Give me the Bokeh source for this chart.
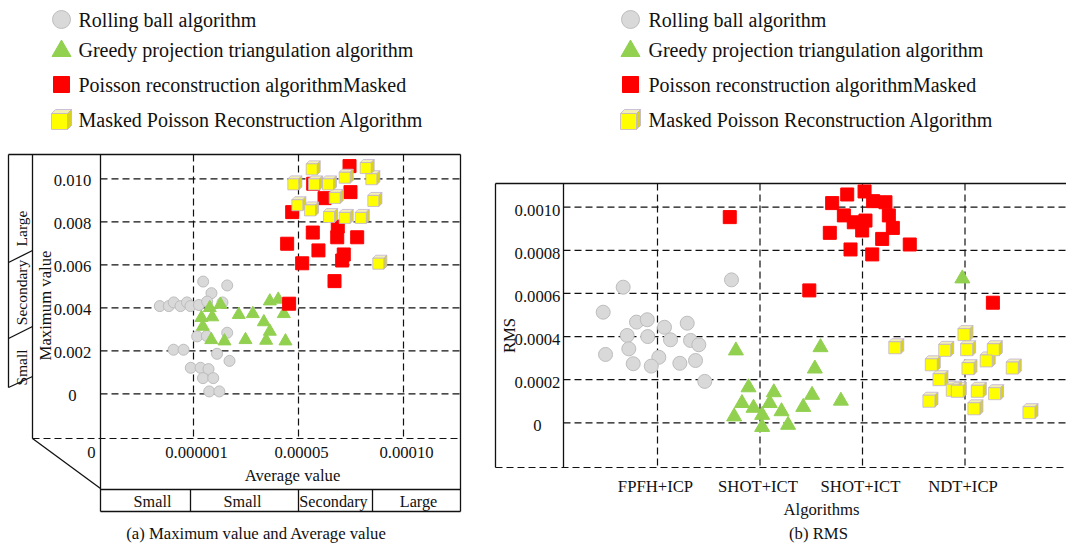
from bokeh.plotting import figure
from bokeh.models import Range1d
from bokeh.core.properties import value
from bokeh.embed import file_html
from bokeh.resources import INLINE

W, H = 1066, 544
FONT = value("Liberation Serif")

# ---------------- data: panel (a) ----------------
# x: position along the "Average value" axis (ticks 0, 0.000001, 0.00005, 0.00010)
# y: maximum value
left_x_ticks = [0, 1, 2, 3]
left_x_labels = ["0", "0.000001", "0.00005", "0.00010"]
left_y_ticks = [0, 0.002, 0.004, 0.006, 0.008, 0.010]
left_y_labels = ["0", "0.002", "0.004", "0.006", "0.008", "0.010"]
left_band_labels = ["Small", "Small", "Secondary", "Large"]
left_side_labels = ["Large", "Secondary", "Small"]

rb_avg = [1.092, 1.321, 1.171, 0.679, 0.765, 0.812, 0.876, 0.938, 0.971, 1.052, 1.130, 1.276, 1.035,
          1.127, 1.321, 0.810, 0.905, 1.224, 1.343, 0.974, 1.067, 1.143, 1.090, 1.188, 1.150, 1.246]
rb_max = [0.00522, 0.00504, 0.00468, 0.00408, 0.00408, 0.00425, 0.00408, 0.00425, 0.00408, 0.00413,
          0.00429, 0.00425, 0.00267, 0.00269, 0.00284, 0.00205, 0.00205, 0.00186, 0.00153, 0.00121,
          0.00121, 0.00115, 0.00073, 0.00073, 0.00011, 0.00011]

gp_avg = [1.727, 1.807, 1.257, 1.155, 1.076, 1.178, 1.089, 1.431, 1.565, 1.670, 1.727, 1.860, 1.169,
          1.295, 1.495, 1.692, 1.876]
gp_max = [0.00431, 0.00439, 0.00415, 0.00400, 0.00354, 0.00357, 0.00313, 0.00368, 0.00372, 0.00334,
          0.00290, 0.00372, 0.00251, 0.00245, 0.00251, 0.00248, 0.00245]

pr_avg = [2.486, 2.140, 2.248, 2.495, 1.940, 2.374, 2.136, 2.369, 2.559, 1.892, 2.190, 2.431, 2.416,
          2.035, 2.343, 1.911]
pr_max = [0.01059, 0.00977, 0.00910, 0.00938, 0.00845, 0.00778, 0.00750, 0.00728, 0.00728, 0.00698,
          0.00667, 0.00648, 0.00620, 0.00607, 0.00524, 0.00419]

mp_avg = [2.126, 2.640, 1.951, 2.148, 2.281, 2.440, 2.694, 1.989, 2.110, 2.345, 2.713, 2.291, 2.440,
          2.593, 2.760]
mp_max = [0.01044, 0.01050, 0.00974, 0.00974, 0.00974, 0.01005, 0.00998, 0.00877, 0.00853, 0.00911,
          0.00897, 0.00822, 0.00818, 0.00818, 0.00605]

# ---------------- data: panel (b) ----------------
right_categories = ["FPFH+ICP", "SHOT+ICT", "SHOT+ICT", "NDT+ICP"]
right_x_ticks = [1, 2, 3, 4]
right_y_ticks = [0, 0.0002, 0.0004, 0.0006, 0.0008, 0.0010]
right_y_labels = ["0", "0.0002", "0.0004", "0.0006", "0.0008", "0.0010"]

rb_alg = [0.665, 1.722, 0.470, 0.795, 0.900, 1.068, 1.290, 0.704, 0.905, 1.127, 1.322, 1.403, 0.720,
          0.493, 1.013, 0.763, 0.939, 1.218, 1.371, 1.461]
rb_rms = [0.000629, 0.000663, 0.000513, 0.000467, 0.000478, 0.000443, 0.000462, 0.000405, 0.000400,
          0.000385, 0.000382, 0.000362, 0.000343, 0.000317, 0.000304, 0.000274, 0.000263, 0.000276,
          0.000289, 0.000192]

gp_alg = [1.765, 2.590, 2.535, 1.888, 2.135, 1.824, 1.937, 2.095, 2.508, 2.422, 2.789, 1.748, 2.021,
          2.210, 2.021, 2.274, 3.974]
gp_rms = [0.000335, 0.000350, 0.000251, 0.000164, 0.000141, 0.000091, 0.000069, 0.000091, 0.000129,
          0.000073, 0.000102, 0.000029, 0.000036, 0.000053, -0.000020, -0.000010, 0.000669]

pr_alg = [1.705, 2.851, 3.020, 2.704, 3.104, 3.224, 2.818, 3.257, 2.915, 3.029, 2.997, 3.296, 2.681,
          3.192, 3.461, 2.883, 3.095, 2.481, 4.272]
pr_rms = [0.000954, 0.001059, 0.001073, 0.001019, 0.001028, 0.001023, 0.000962, 0.000962, 0.000930,
          0.000938, 0.000892, 0.000904, 0.000881, 0.000853, 0.000827, 0.000804, 0.000781, 0.000614,
          0.000557]

mp_alg = [3.315, 3.990, 3.802, 4.016, 4.276, 4.207, 3.671, 4.029, 4.461, 3.746, 3.876, 3.925, 4.120,
          4.289, 3.648, 4.087, 4.624]
mp_rms = [0.000348, 0.000409, 0.000336, 0.000339, 0.000339, 0.000287, 0.000269, 0.000251, 0.000254,
          0.000200, 0.000151, 0.000146, 0.000146, 0.000135, 0.000100, 0.000065, 0.000047]

series_names = ["Rolling ball algorithm", "Greedy projection triangulation algorithm",
                "Poisson reconstruction algorithmMasked", "Masked Poisson Reconstruction Algorithm"]

# ---------------- styles ----------------
GRAY_FILL, GRAY_LINE = "#d9d9d9", "#bdbdbd"
GREEN = "#92d050"
RED = "#ff0000"
CUBE_FRONT, CUBE_TOP, CUBE_SIDE, CUBE_EDGE = "#ffff00", "#f3efb4", "#d9d21c", "#bfb2d6"
INK = "#111111"
DASH = "7 4"

# pixel placement of each panel's scales (px of reference value, px per data unit)
L_X0, L_XS = 88.0, 105.0
L_Y0, L_YS = 393.3, 21500.0
R_X1, R_XS = 657.0, 102.5
R_Y0, R_YS = 422.3, 215600.0

p = figure(width=W, height=H, output_backend="svg", toolbar_location=None,
           x_range=Range1d(0, W), y_range=Range1d(H, 0),
           x_axis_location=None, y_axis_location=None, min_border=0,
           outline_line_color=None, background_fill_color="white", border_fill_color="white")
p.grid.visible = False
p.extra_x_ranges = {"lx": Range1d(-L_X0 / L_XS, (W - L_X0) / L_XS),
                    "rx": Range1d(1 - R_X1 / R_XS, 1 + (W - R_X1) / R_XS)}
p.extra_y_ranges = {"ly": Range1d((L_Y0 - H) / L_YS, L_Y0 / L_YS),
                    "ry": Range1d((R_Y0 - H) / R_YS, R_Y0 / R_YS)}


def txt(x, y, t, size="16.7px", align="center", angle=0.0, **kw):
    p.text(x=x, y=y, text=t, text_font=FONT, text_font_size=value(size), text_color=INK,
           text_align=align, text_baseline="middle", angle=angle, **kw)


def solid(x0, y0, x1, y1, width=1.3):
    p.segment(x0=x0, y0=y0, x1=x1, y1=y1, line_color=INK, line_width=width)


def cubes(xs, ys, size, depth, xscale, yscale, **kw):
    h = size / 2.0
    top_x, top_y, side_x, side_y = [], [], [], []
    for x, y in zip(xs, ys):
        def px(dx, dy):
            return x + dx / xscale, y + dy / yscale
        t = [px(-h, h), px(-h + depth, h + depth), px(h + depth, h + depth), px(h, h)]
        s = [px(h, h), px(h + depth, h + depth), px(h + depth, -h + depth), px(h, -h)]
        top_x.append([a for a, _ in t]); top_y.append([b for _, b in t])
        side_x.append([a for a, _ in s]); side_y.append([b for _, b in s])
    p.patches(top_x, top_y, fill_color=CUBE_TOP, line_color=CUBE_EDGE, line_width=0.8, **kw)
    p.patches(side_x, side_y, fill_color=CUBE_SIDE, line_color=CUBE_EDGE, line_width=0.8, **kw)
    p.scatter(xs, ys, marker="square", size=size, fill_color=CUBE_FRONT, line_color=CUBE_EDGE,
              line_width=0.8, **kw)


def legend(mx, tx):
    rows = [19, 49, 84, 119]
    p.scatter([mx], [rows[0]], marker="circle", size=18, fill_color=GRAY_FILL, line_color=GRAY_LINE)
    p.scatter([mx], [rows[1] + 1.5], marker="triangle", size=19, fill_color=GREEN, line_color=GREEN)
    p.scatter([mx], [rows[2]], marker="square", size=16, fill_color=RED, line_color=RED)
    cubes([mx - 2], [rows[3] + 2], 16, 4, 1.0, -1.0)
    txt([tx] * 4, rows, series_names, size="20px", align="left")


# ================= panel (a) =================
legend(61, 78)

# frame and side/bottom bands
solid(8, 154, 460, 154)
solid(8, 154, 8, 387)
solid(32, 154, 32, 438)
solid(100, 154, 100, 511)
solid(460, 154, 460, 511)
solid([8, 8, 8], [262, 338, 387], [32, 32, 32], [250, 326, 376])
solid(32, 438, 100, 488)
solid(100, 489, 460, 489)
solid(100, 511, 460, 511)
solid([190, 298, 372], [489] * 3, [190, 298, 372], [511] * 3)
p.segment(x0=32, y0=438, x1=460, y1=438, line_color=INK, line_width=1.2, line_dash=DASH)

# grid
p.segment(x0=100, x1=460, y0=left_y_ticks, y1=left_y_ticks, y_range_name="ly",
          line_color=INK, line_width=1.2, line_dash=DASH)
p.segment(x0=left_x_ticks[1:], x1=left_x_ticks[1:], y0=154, y1=438, x_range_name="lx",
          line_color=INK, line_width=1.2, line_dash=DASH)

# tick labels and titles
txt([72] * len(left_y_ticks), left_y_ticks, left_y_labels, y_range_name="ly", y_offset=2)
txt(left_x_ticks, [452] * 4, left_x_labels, x_range_name="lx", x_offset=3)
txt([292], [475], ["Average value"])
txt([45], [305], ["Maximum value"], angle=1.5708)
txt([21, 21, 21], [228, 292, 367], left_side_labels, size="15.5px", angle=1.5708)
txt([152, 242, 333, 418], [501] * 4, left_band_labels, size="16.2px")
txt([256], [533], ["(a) Maximum value and Average value"])

# markers
p.scatter(rb_avg, rb_max, x_range_name="lx", y_range_name="ly", marker="circle", size=11,
          fill_color=GRAY_FILL, line_color=GRAY_LINE, line_width=1)
p.scatter(gp_avg, gp_max, x_range_name="lx", y_range_name="ly", marker="triangle", size=13,
          fill_color=GREEN, line_color=GREEN)
p.scatter(pr_avg, pr_max, x_range_name="lx", y_range_name="ly", marker="square", size=13,
          fill_color=RED, line_color=RED)
cubes(mp_avg, mp_max, 11, 3, L_XS, L_YS, x_range_name="lx", y_range_name="ly")

# ================= panel (b) =================
legend(630, 648)

solid(495, 183, W, 183)
solid(495, 183, 495, 467)
solid(563, 183, 563, 467)
p.segment(x0=495, y0=467, x1=W, y1=467, line_color=INK, line_width=1.2, line_dash=DASH)

p.segment(x0=563, x1=W, y0=right_y_ticks, y1=right_y_ticks, y_range_name="ry",
          line_color=INK, line_width=1.2, line_dash=DASH)
p.segment(x0=right_x_ticks, x1=right_x_ticks, y0=183, y1=467, x_range_name="rx",
          line_color=INK, line_width=1.2, line_dash=DASH)

txt([537] * len(right_y_ticks), right_y_ticks, right_y_labels, y_range_name="ry", y_offset=3)
txt(right_x_ticks, [486] * 4, right_categories, x_range_name="rx", x_offset=-2)
txt([821], [509], ["Algorithms"])
txt([509], [335], ["RMS"], angle=1.5708)
txt([818], [533], ["(b) RMS"])

p.scatter(rb_alg, rb_rms, x_range_name="rx", y_range_name="ry", marker="circle", size=14,
          fill_color=GRAY_FILL, line_color=GRAY_LINE, line_width=1)
p.scatter(gp_alg, gp_rms, x_range_name="rx", y_range_name="ry", marker="triangle", size=15,
          fill_color=GREEN, line_color=GREEN)
p.scatter(pr_alg, pr_rms, x_range_name="rx", y_range_name="ry", marker="square", size=13,
          fill_color=RED, line_color=RED)
cubes(mp_alg, mp_rms, 12, 3, R_XS, R_YS, x_range_name="rx", y_range_name="ry")

open("out.html", "w").write(file_html(p, INLINE))
